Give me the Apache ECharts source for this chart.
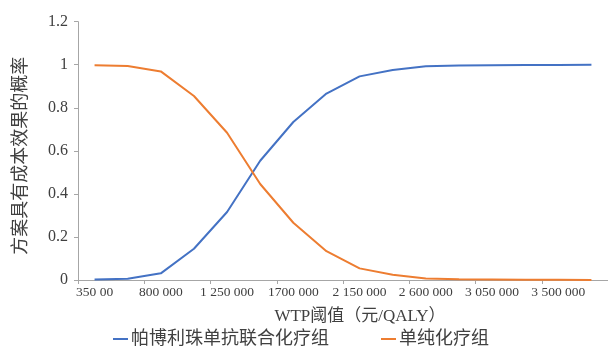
<!DOCTYPE html>
<html>
<head>
<meta charset="utf-8">
<script src="https://cdn.jsdelivr.net/npm/echarts@6/dist/echarts.min.js"></script>
<style>
  html, body { margin: 0; padding: 0; background: #fff; }
  #chart { width: 608px; height: 354px; }
</style>
</head>
<body>
<div id="chart"></div>
<script>
// WTP thresholds (yuan per QALY), step 225 000; labels shown on every second one
var categories = ['350 00', '575 000', '800 000', '1 025 000', '1 250 000', '1 475 000',
  '1700 000', '1 925 000', '2 150 000', '2 375 000', '2 600 000', '2 825 000',
  '3 050 000', '3 275 000', '3 500 000', '3 725 000'];

// Probability that each strategy is cost-effective
var pembroValues = [0.002, 0.006, 0.031, 0.145, 0.316, 0.554, 0.734, 0.866,
  0.946, 0.976, 0.993, 0.997, 0.998, 0.999, 0.999, 1.0];
var chemoValues = [0.998, 0.994, 0.969, 0.855, 0.684, 0.446, 0.266, 0.134,
  0.054, 0.024, 0.007, 0.003, 0.002, 0.001, 0.001, 0.0];

var seriesNames = ['帕博利珠单抗联合化疗组', '单纯化疗组'];
var yTicks = { min: 0, max: 1.2, step: 0.2 };

var serif = '"Liberation Serif", "Times New Roman", "Noto Sans CJK SC", serif';
var cjk = '"Liberation Serif", "Noto Sans CJK SC", sans-serif';
var textColor = '#404040';
var axisColor = '#a6a6a6';

var chart = echarts.init(document.getElementById('chart'), null, { renderer: 'canvas' });
chart.setOption({
  backgroundColor: '#ffffff',
  animation: false,
  grid: { left: 78, top: 21.7, width: 533, bottom: 74, containLabel: false },
  legend: {
    data: seriesNames,
    left: 108,
    bottom: 1,
    itemGap: 52,
    itemWidth: 15,
    itemHeight: 2,
    icon: 'rect',
    textStyle: { fontFamily: cjk, fontSize: 18, color: textColor, padding: [0, 0, 0, -2] }
  },
  xAxis: {
    type: 'category',
    data: categories,
    boundaryGap: true,
    name: 'WTP阈值（元/QALY）',
    nameLocation: 'middle',
    nameGap: 28,
    nameTextStyle: { fontFamily: cjk, fontSize: 17, color: textColor, padding: [0, 0, 0, 34] },
    axisLine: { lineStyle: { color: axisColor, width: 1 } },
    axisTick: { show: true, interval: 1, length: 4, lineStyle: { color: axisColor } },
    axisLabel: { interval: 1, fontFamily: serif, fontSize: 13.5, color: textColor, margin: 6 },
    splitLine: { show: false }
  },
  yAxis: {
    type: 'value',
    min: yTicks.min,
    max: yTicks.max,
    interval: yTicks.step,
    name: '方案具有成本效果的概率',
    nameLocation: 'middle',
    nameGap: 50,
    nameTextStyle: { fontFamily: '"Noto Sans CJK SC", sans-serif', fontSize: 18, color: textColor, padding: [0, 10, 0, 0] },
    axisLine: { show: true, lineStyle: { color: axisColor, width: 1 } },
    axisTick: { show: true, inside: false, length: 4, lineStyle: { color: axisColor } },
    axisLabel: { fontFamily: serif, fontSize: 16, color: textColor, margin: 10 },
    splitLine: { show: false }
  },
  series: [
    {
      name: seriesNames[0],
      type: 'line',
      data: pembroValues,
      symbol: 'none',
      lineStyle: { color: '#4472c4', width: 2 },
      itemStyle: { color: '#4472c4' }
    },
    {
      name: seriesNames[1],
      type: 'line',
      data: chemoValues,
      symbol: 'none',
      lineStyle: { color: '#ed7d31', width: 2 },
      itemStyle: { color: '#ed7d31' }
    }
  ]
});
</script>
</body>
</html>
